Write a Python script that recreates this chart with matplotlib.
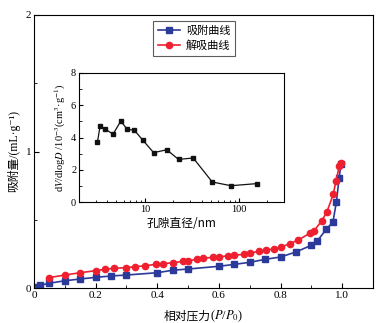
import matplotlib
matplotlib.use("Agg")
import matplotlib.pyplot as plt
from matplotlib.ticker import MultipleLocator, LogLocator, NullFormatter, FixedLocator
from matplotlib.offsetbox import TextArea, HPacker, AnnotationBbox

plt.rcParams['font.family'] = ['Liberation Serif', 'Noto Sans CJK SC', 'DejaVu Sans']
plt.rcParams['mathtext.fontset'] = 'stix'

# Adsorption branch
ads_x = [0.003, 0.02, 0.05, 0.10, 0.15, 0.20, 0.25, 0.30, 0.40, 0.45, 0.50, 0.60, 0.65, 0.70,
         0.75, 0.80, 0.85, 0.90, 0.919, 0.949, 0.97, 0.981, 0.99, 0.996]
ads_y = [0.010, 0.020, 0.035, 0.053, 0.066, 0.078, 0.088, 0.095, 0.112, 0.130, 0.139, 0.159,
         0.173, 0.188, 0.210, 0.227, 0.264, 0.313, 0.344, 0.432, 0.483, 0.628, 0.804, 0.908]
# Desorption branch
des_x = [0.049, 0.10, 0.15, 0.20, 0.23, 0.259, 0.298, 0.329, 0.359, 0.397, 0.418, 0.45, 0.483,
         0.501, 0.529, 0.548, 0.58, 0.60, 0.631, 0.65, 0.682, 0.701, 0.731, 0.752, 0.78, 0.802,
         0.83, 0.858, 0.894, 0.909, 0.933, 0.95, 0.971, 0.98, 0.991, 0.996]
des_y = [0.076, 0.095, 0.112, 0.127, 0.137, 0.144, 0.149, 0.156, 0.163, 0.173, 0.178, 0.185, 0.195,
         0.198, 0.212, 0.217, 0.225, 0.227, 0.237, 0.240, 0.247, 0.254, 0.271, 0.276, 0.288, 0.300,
         0.325, 0.352, 0.400, 0.420, 0.490, 0.555, 0.686, 0.786, 0.894, 0.914]
# Pore size distribution
pore_d = [3.14, 3.35, 3.79, 4.6, 5.56, 6.5, 7.7, 9.5, 12.4, 17.1, 22.8, 32.6, 52, 82, 154]
pore_v = [3.72, 4.71, 4.52, 4.21, 5.02, 4.50, 4.46, 3.84, 3.06, 3.24, 2.64, 2.73, 1.24, 1.01, 1.14]

fig = plt.figure(figsize=(3.89, 3.23), dpi=100)
ax = fig.add_axes([34/389, 35/323, 339/389, 273/323])
ax.plot(ads_x, ads_y, '-s', color='#2b3a9a', ms=4, lw=1.2, label='吸附曲线')
ax.plot(des_x, des_y, '-o', color='#ee2030', ms=4.5, lw=1.2, label='解吸曲线')
ax.set_xlim(0, 1.1)
ax.set_ylim(0, 2)
ax.xaxis.set_major_locator(FixedLocator([0, 0.2, 0.4, 0.6, 0.8, 1.0]))
ax.set_xticklabels(['0', '0.2', '0.4', '0.6', '0.8', '1.0'])
ax.xaxis.set_minor_locator(MultipleLocator(0.1))
ax.yaxis.set_major_locator(MultipleLocator(1))
ax.yaxis.set_minor_locator(MultipleLocator(0.5))
ax.tick_params(which='both', direction='in', labelsize=8, pad=2)
ax.tick_params(which='major', length=3.5)
ax.tick_params(which='minor', length=2)
ax.set_ylabel('吸附量/(mL·g⁻¹)', fontsize=8.5, labelpad=4,
              family=['Liberation Serif', 'Noto Sans CJK SC', 'DejaVu Sans'])
# x label: CJK part + math part
ta1 = TextArea('相对压力', textprops=dict(fontsize=8.5, family=['Noto Sans CJK SC']))
ta2 = TextArea('($P$/$P_0$)', textprops=dict(fontsize=9))
pack = HPacker(children=[ta1, ta2], pad=0, sep=0, align='baseline')
ab = AnnotationBbox(pack, (0.5, -0.075), xycoords='axes fraction', frameon=False,
                    box_alignment=(0.5, 1.0), pad=0)
ax.add_artist(ab)
for s in ax.spines.values():
    s.set_linewidth(0.8)
leg = ax.legend(loc='upper left', bbox_to_anchor=(0.335, 1.0), frameon=True,
                fancybox=False, edgecolor='#333333', handlelength=2.0, borderpad=0.45,
                labelspacing=0.35, handletextpad=0.5,
                prop={'family': ['Noto Sans CJK SC'], 'size': 8})
leg.get_frame().set_linewidth(0.8)

ins = fig.add_axes([79/389, 121/323, 205/389, 129/323])
ins.plot(pore_d, pore_v, '-s', color='#111111', ms=2.5, lw=0.9)
ins.set_xscale('log')
ins.set_xlim(2, 300)
ins.set_ylim(0, 8)
ins.xaxis.set_major_locator(FixedLocator([10, 100]))
ins.set_xticklabels(['10', '100'])
ins.xaxis.set_minor_locator(LogLocator(base=10, subs=range(2, 10), numticks=10))
ins.xaxis.set_minor_formatter(NullFormatter())
ins.yaxis.set_major_locator(MultipleLocator(2))
ins.yaxis.set_minor_locator(MultipleLocator(1))
ins.tick_params(which='both', direction='in', labelsize=7.5, pad=2)
ins.tick_params(which='major', length=3)
ins.tick_params(which='minor', length=1.8)
ins.set_xlabel('孔隙直径/nm', fontsize=8.5, labelpad=2, family=['Noto Sans CJK SC'])
ins.set_ylabel('d$V$/dlog$D$ /10$^{-3}$(cm$^3$·g$^{-1}$)', fontsize=7.5, labelpad=2)
for s in ins.spines.values():
    s.set_linewidth(0.8)

fig.savefig('out.png', dpi=100)
